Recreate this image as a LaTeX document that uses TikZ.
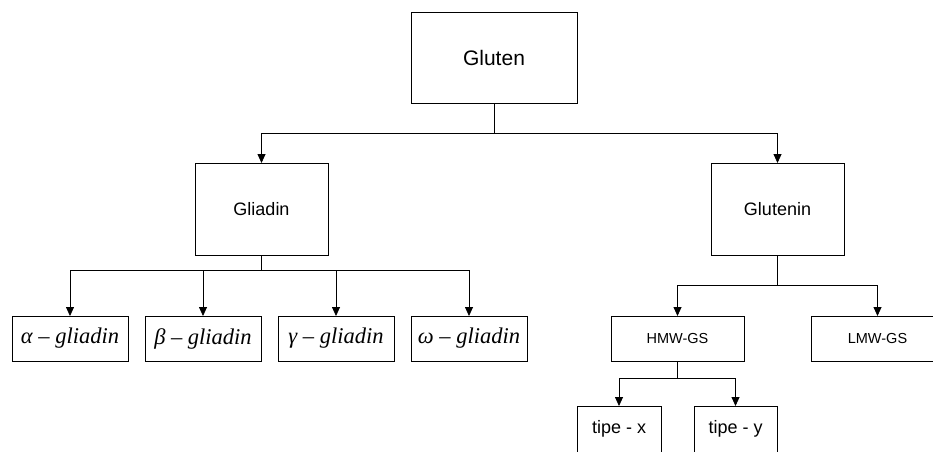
\documentclass[tikz,border=0pt]{standalone}
\usepackage{fontspec}
\setmainfont{Liberation Sans}
\newfontfamily\greekserif{Liberation Serif}
\usetikzlibrary{arrows.meta}
\tikzset{
  box/.style={draw=black, line width=0.8pt, fill=white, inner sep=0pt, outer sep=0pt, align=center},
  conn/.style={draw=black, line width=0.8pt},
  arr/.style={conn, -{Triangle[length=9pt,width=8pt]}},
  gl/.style={font=\greekserif\itshape\fontsize{22.5}{25}\selectfont}
}
\begin{document}
\begin{tikzpicture}[x=1pt,y=-1pt]
\useasboundingbox (0,0) rectangle (933,451);
\clip (0,0) rectangle (933,451);
\fill[white] (0,0) rectangle (933,451);
% nodes
\node[box, minimum width=166pt, minimum height=91pt, font=\fontsize{21}{24}\selectfont] (gluten) at (494,57.5) {Gluten};
\node[box, minimum width=133pt, minimum height=92pt, font=\fontsize{18}{21}\selectfont] (gliadin) at (261.5,209) {Gliadin};
\node[box, minimum width=133pt, minimum height=92pt, font=\fontsize{18}{21}\selectfont] (glutenin) at (777.5,209) {Glutenin};
\node[box, gl, minimum width=116pt, minimum height=45pt] (alpha) at (70,338.5) {α – gliadin};
\node[box, gl, minimum width=116pt, minimum height=45pt] (beta) at (203,338.5) {β – gliadin};
\node[box, gl, minimum width=116pt, minimum height=45pt] (gamma) at (336,338.5) {γ – gliadin};
\node[box, gl, minimum width=116pt, minimum height=45pt] (omega) at (469,338.5) {ω – gliadin};
\node[box, minimum width=133pt, minimum height=45pt, font=\fontsize{14.5}{17}\selectfont] (hmw) at (677.5,338.5) {HMW-GS};
\node[box, minimum width=133pt, minimum height=45pt, font=\fontsize{14.5}{17}\selectfont] (lmw) at (877.5,338.5) {LMW-GS};
\node[box, minimum width=84pt, minimum height=46pt, font=\fontsize{18}{21}\selectfont] (tipex) at (619,429) {tipe - x};
\node[box, minimum width=83pt, minimum height=46pt, font=\fontsize{18}{21}\selectfont] (tipey) at (735.5,429) {tipe - y};
% junctions
\coordinate (j1) at (494,133);
\coordinate (j2) at (261.5,270);
\coordinate (j3) at (777.5,285);
\coordinate (j4) at (677.5,378);
% connectors
\draw[conn] (gluten.south) -- (j1);
\draw[arr] (j1) -| (gliadin.north);
\draw[arr] (j1) -| (glutenin.north);
\draw[conn] (gliadin.south) -- (j2);
\draw[arr] (j2) -| (alpha.north);
\draw[arr] (j2) -| (beta.north);
\draw[arr] (j2) -| (gamma.north);
\draw[arr] (j2) -| (omega.north);
\draw[conn] (glutenin.south) -- (j3);
\draw[arr] (j3) -| (hmw.north);
\draw[arr] (j3) -| (lmw.north);
\draw[conn] (hmw.south) -- (j4);
\draw[arr] (j4) -| (tipex.north);
\draw[arr] (j4) -| (tipey.north);
\end{tikzpicture}
\end{document}
